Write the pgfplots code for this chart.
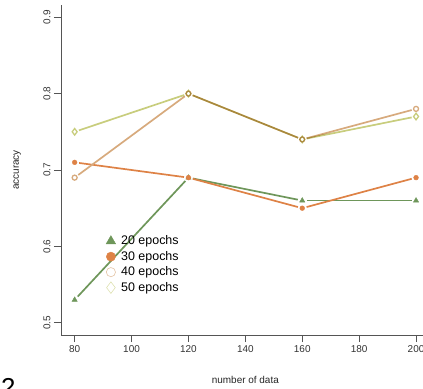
\documentclass[border=0pt]{standalone}
\usepackage{fontspec}
\setmainfont{Liberation Sans}
\usepackage{pgfplots}
\pgfplotsset{compat=1.18}
\definecolor{cA}{HTML}{6E965A}
\definecolor{cB}{HTML}{DE8246}
\definecolor{cC}{HTML}{D7AA7D}
\definecolor{cD}{HTML}{C8CD7D}
\definecolor{axc}{HTML}{555555}
\newcommand\seg[5]{\addplot[#1, line width=1.7bp, shorten <=4.5bp, shorten >=4.5bp, forget plot] coordinates {(#2,#3) (#4,#5)};}
\begin{document}
\begin{tikzpicture}
\begin{scope}
\clip (-61bp,-54bp) rectangle (362bp,335bp);
\begin{axis}[
  at={(0,0)}, anchor=south west,
  scale only axis, width=368.7bp, height=330bp,
  xmin=75.2, xmax=204.8, ymin=0.484, ymax=0.916,
  axis x line=bottom, axis y line=left,
  axis line style={-, draw=axc, line width=0.8bp},
  xtick={80,100,...,200}, ytick={0.5,0.6,0.7,0.8,0.9},
  yticklabels={0.5,0.6,0.7,0.8,0.9},
  tick align=outside, major tick length=7bp,
  tick style={draw=axc, line width=0.8bp},
  /pgf/number format/assume math mode=true,
  ticklabel style={font=\fontsize{10}{12}\selectfont, text=black!80},
  yticklabel style={rotate=90, anchor=south},
  xlabel={number of data}, ylabel={accuracy},
  label style={font=\fontsize{10}{12}\selectfont, text=black!85},
  xlabel style={at={(axis description cs:0.5,-0.136)}, anchor=center},
  ylabel style={at={(axis description cs:-0.119,0.5)}, anchor=center, rotate=0},
  legend style={at={(axis description cs:0.115,0.307)}, anchor=north west, draw=none, fill=none,
    font=\fontsize{12.5}{14}\selectfont, row sep=1bp, inner sep=0pt},
  legend cell align=left,
  legend image code/.code={\draw[#1] plot coordinates {(0bp,0bp)}; \path (-7bp,0bp) (8bp,0bp);},
  clip=false,
]
\addlegendimage{only marks, mark=triangle*, color=cA, mark size=5.5bp}
\addlegendentry{20 epochs}
\addlegendimage{only marks, mark=*, color=cB, mark size=4.6bp}
\addlegendentry{30 epochs}
\addlegendimage{only marks, mark=o, color=cC!70!white, mark size=4.6bp, line width=0.6bp}
\addlegendentry{40 epochs}
\addlegendimage{only marks, mark=diamond, color=cD!60!white, mark size=5.8bp, line width=0.6bp}
\addlegendentry{50 epochs}
% 20 epochs
\addplot[only marks, mark=triangle*, color=cA, mark size=3bp, forget plot] coordinates {(80,0.53) (120,0.69) (160,0.66) (200,0.66)};
\seg{cA}{80}{0.53}{120}{0.69}
\seg{cA}{120}{0.69}{160}{0.66}
\seg{cA}{160}{0.66}{200}{0.66}
% 30 epochs
\addplot[only marks, mark=*, color=cB, mark size=2.4bp, forget plot] coordinates {(80,0.71) (120,0.69) (160,0.65) (200,0.69)};
\seg{cB}{80}{0.71}{120}{0.69}
\seg{cB}{120}{0.69}{160}{0.65}
\seg{cB}{160}{0.65}{200}{0.69}
% 40 epochs
\addplot[only marks, mark=o, color=cC, mark size=2.5bp, line width=1.3bp, forget plot] coordinates {(80,0.69) (120,0.80) (160,0.74) (200,0.78)};
\seg{cC}{80}{0.69}{120}{0.80}
\seg{cC}{120}{0.80}{160}{0.74}
\seg{cC}{160}{0.74}{200}{0.78}
% 50 epochs
\addplot[only marks, mark=diamond, color=cD, mark size=3.3bp, line width=1.3bp, forget plot, blend mode=multiply] coordinates {(80,0.75) (120,0.80) (160,0.74) (200,0.77)};
\seg{cD, blend mode=multiply}{80}{0.75}{120}{0.80}
\seg{cD, blend mode=multiply}{120}{0.80}{160}{0.74}
\seg{cD, blend mode=multiply}{160}{0.74}{200}{0.77}
\end{axis}
\node[anchor=north west, inner sep=0pt, font=\fontsize{26}{30}\selectfont] at (-60bp,-43bp) {2};
\end{scope}
\pgfresetboundingbox
\useasboundingbox (-61bp,-54bp) rectangle (362bp,335bp);
\end{tikzpicture}
\end{document}
